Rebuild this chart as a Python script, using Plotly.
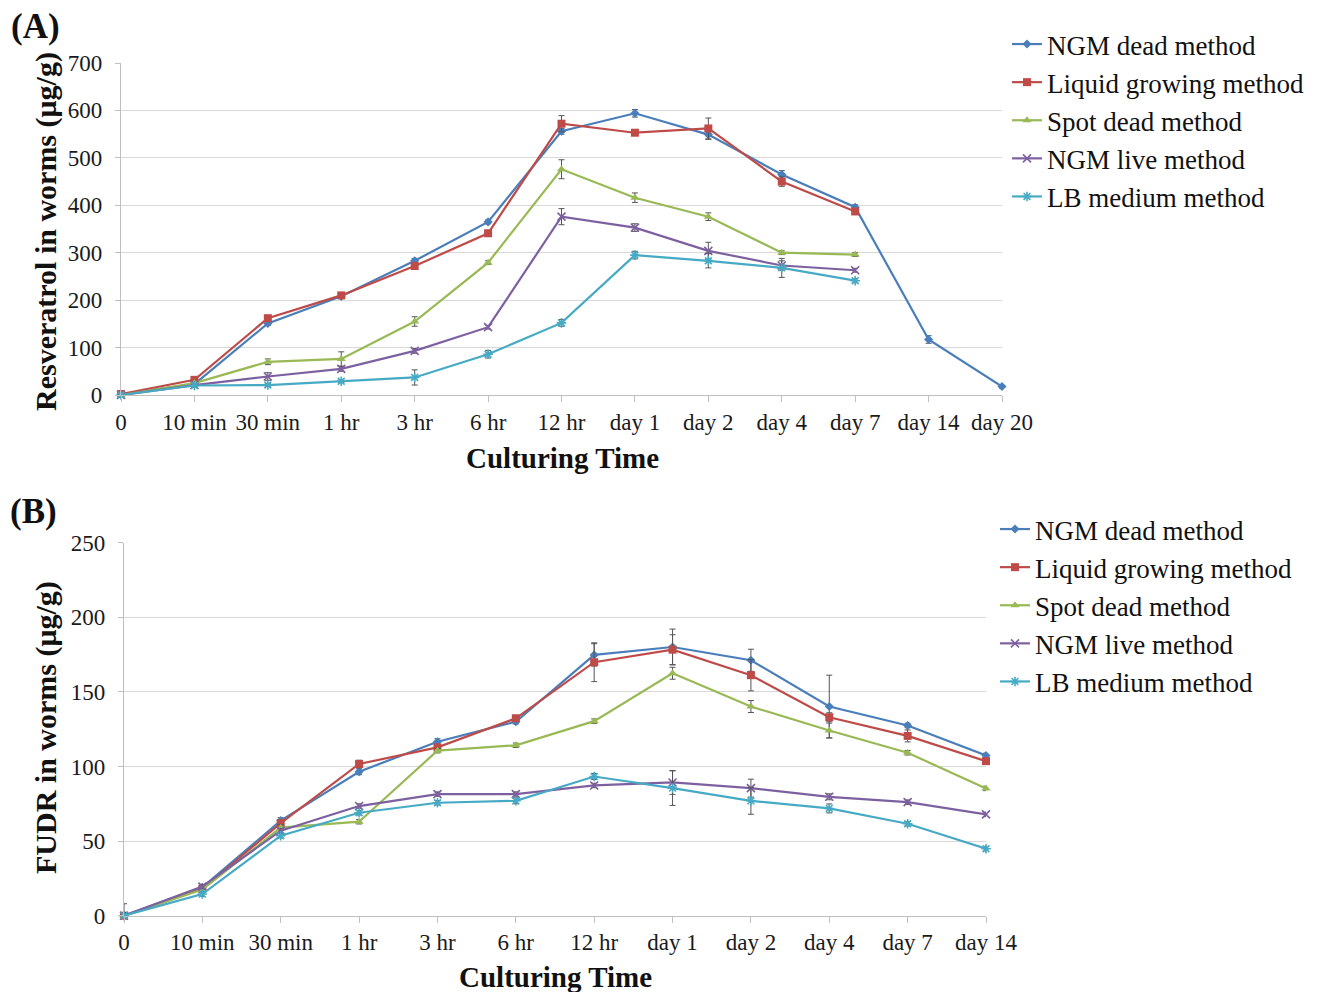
import plotly.graph_objects as go

# ---------------- data ----------------
cats_a = ["0", "10 min", "30 min", "1 hr", "3 hr", "6 hr", "12 hr", "day 1", "day 2",
          "day 4", "day 7", "day 14", "day 20"]
cats_b = ["0", "10 min", "30 min", "1 hr", "3 hr", "6 hr", "12 hr", "day 1", "day 2",
          "day 4", "day 7", "day 14"]

series_names = ["NGM dead method", "Liquid growing method", "Spot dead method",
                "NGM live method", "LB medium method"]

# Panel A: resveratrol (ug/g)
a_ngm_dead = [2, 23, 151, 208, 283, 365, 556, 594, 549, 465, 396, 117, 18]
a_liquid = [2, 32, 162, 210, 272, 341, 572, 553, 562, 450, 387]
a_spot = [0, 25, 70, 76, 155, 279, 476, 416, 376, 300, 296]
a_ngm_live = [0, 21, 39, 55, 93, 143, 376, 353, 304, 273, 263]
a_lb = [0, 20, 21, 29, 37, 86, 152, 295, 283, 268, 241]

a_err_ngm_dead = [5, 3, 4, 4, 5, 4, 6, 8, 10, 8, 5, 8, 3]
a_err_liquid = [3, 3, 5, 5, 5, 4, 17, 5, 22, 10, 6]
a_err_spot = [2, 3, 6, 15, 10, 4, 20, 10, 8, 4, 4]
a_err_ngm_live = [2, 3, 8, 5, 5, 4, 17, 8, 18, 10, 4]
a_err_lb = [2, 3, 3, 3, 16, 8, 7, 8, 15, 20, 4]

# Panel B: FUDR (ug/g)
b_ngm_dead = [0, 19, 63.7, 96.5, 116.6, 130, 174.8, 180.1, 171.2, 140.2, 127.5, 107.4]
b_liquid = [0, 18, 62, 101.7, 112.8, 132.3, 169.9, 178.3, 161.2, 133, 120.5, 103.6]
b_spot = [0, 17.6, 59, 63, 110.6, 114.2, 130.4, 162.5, 140.2, 124.1, 109.2, 85.3]
b_ngm_live = [0, 19.5, 57, 73.5, 81.5, 81.5, 87.3, 89.3, 85.5, 79.7, 76.1, 67.9]
b_lb = [0, 14.5, 53.6, 69, 75.7, 77, 93.3, 85.5, 77, 71.9, 61.6, 44.9]

b_err_ngm_dead = [8, 1.5, 2, 2, 2, 1.5, 7.5, 12, 7.4, 21, 1.5, 1.5]
b_err_liquid = [2, 1.5, 2, 2.5, 2, 2, 13, 10, 10.5, 3, 4, 1.5]
b_err_spot = [2, 1.5, 2, 1.5, 1.5, 1.5, 1.5, 4, 4, 5, 1.5, 1.5]
b_err_ngm_live = [2, 1.5, 1.5, 1.5, 1.5, 1.5, 1.5, 8, 6, 2, 1.5, 1.5]
b_err_lb = [2, 1.5, 1.5, 1.5, 1.5, 2, 2, 11.6, 9, 3, 1.5, 1.5]

# ---------------- styles ----------------
colors = ["#4A7EBB", "#BE4B48", "#98B954", "#7D60A0", "#46AAC5"]
symbols = ["diamond", "square", "triangle-up", "x-thin-open", "asterisk-open"]
sizes = [7, 8, 8, 8, 8]
FONT = "Liberation Serif, Times New Roman, serif"

# the page body has an 8px margin, so the figure is drawn offset by 8px
OFF = 8
W, H = 1325, 984

fig = go.Figure()

a_vals = [a_ngm_dead, a_liquid, a_spot, a_ngm_live, a_lb]
a_errs = [a_err_ngm_dead, a_err_liquid, a_err_spot, a_err_ngm_live, a_err_lb]
b_vals = [b_ngm_dead, b_liquid, b_spot, b_ngm_live, b_lb]
b_errs = [b_err_ngm_dead, b_err_liquid, b_err_spot, b_err_ngm_live, b_err_lb]


def marker(i):
    open_sym = symbols[i].endswith("open")
    return dict(symbol=symbols[i], size=sizes[i], color=colors[i],
                line=dict(width=1.6 if open_sym else 0, color=colors[i]))


for i, name in enumerate(series_names):
    vals = a_vals[i]
    fig.add_trace(go.Scatter(
        x=list(range(len(vals))), y=vals, name=name, mode="lines+markers",
        line=dict(color=colors[i], width=2.2), marker=marker(i),
        error_y=dict(type="data", array=a_errs[i], color="#555555", thickness=1, width=3),
        xaxis="x", yaxis="y", legend="legend", cliponaxis=False))

for i, name in enumerate(series_names):
    vals = b_vals[i]
    fig.add_trace(go.Scatter(
        x=list(range(len(vals))), y=vals, name=name, mode="lines+markers",
        line=dict(color=colors[i], width=2.2), marker=marker(i),
        error_y=dict(type="data", array=b_errs[i], color="#555555", thickness=1, width=3),
        xaxis="x2", yaxis="y2", legend="legend2", cliponaxis=False))


def px_x(p):
    return (p - OFF) / W


def px_y(p):
    return 1 - (p - OFF) / H


axis_common = dict(showline=True, linecolor="#BFBFBF", linewidth=1.3,
                   ticks="outside", tickcolor="#BFBFBF", ticklen=6,
                   tickfont=dict(family=FONT, size=23, color="#1a1a1a"),
                   zeroline=False, automargin=False)

fig.update_layout(
    width=W, height=H,
    margin=dict(l=0, r=0, t=0, b=0, pad=0, autoexpand=False),
    paper_bgcolor="white", plot_bgcolor="white",
    font=dict(family=FONT, color="#111"),
    xaxis=dict(domain=[px_x(121), px_x(1002)], anchor="y", range=[0, 12],
               tickmode="array", tickvals=list(range(len(cats_a))), ticktext=cats_a,
               showgrid=False, ticklabelstandoff=0, **axis_common),
    yaxis=dict(domain=[px_y(395), px_y(63)], anchor="x", range=[0, 700], dtick=100,
               showgrid=True, gridcolor="#D9D9D9", gridwidth=1.3,
               ticklabelstandoff=8, **{**axis_common, "ticklen": 5}),
    xaxis2=dict(domain=[px_x(124), px_x(986)], anchor="y2", range=[0, 11],
                tickmode="array", tickvals=list(range(len(cats_b))), ticktext=cats_b,
                showgrid=False, ticklabelstandoff=0, **axis_common),
    yaxis2=dict(domain=[px_y(915.7), px_y(542.7)], anchor="x2", range=[0, 250], dtick=50,
                showgrid=True, gridcolor="#D9D9D9", gridwidth=1.3,
                ticklabelstandoff=8, **{**axis_common, "ticklen": 5}),
    legend=dict(x=px_x(1007), y=px_y(20), xanchor="left", yanchor="top",
                font=dict(family=FONT, size=27, color="#111"),
                bgcolor="rgba(0,0,0,0)", itemwidth=30, tracegroupgap=0),
    legend2=dict(x=px_x(995), y=px_y(505), xanchor="left", yanchor="top",
                 font=dict(family=FONT, size=27, color="#111"),
                 bgcolor="rgba(0,0,0,0)", itemwidth=30, tracegroupgap=0),
    showlegend=True,
)

ann_font_bold = dict(family=FONT, size=29, color="#111")
annotations = [
    dict(text="<b>(A)</b>", x=px_x(35), y=px_y(27), font=dict(family=FONT, size=35, color="#111")),
    dict(text="<b>(B)</b>", x=px_x(33), y=px_y(511), font=dict(family=FONT, size=35, color="#111")),
    dict(text="<b>Culturing Time</b>", x=px_x(562), y=px_y(458), font=ann_font_bold),
    dict(text="<b>Culturing Time</b>", x=px_x(555), y=px_y(977), font=ann_font_bold),
    dict(text="<b>Resveratrol in worms (μg/g)</b>", x=px_x(46), y=px_y(232),
         textangle=-90, font=dict(family=FONT, size=30, color="#111")),
    dict(text="<b>FUDR in worms (μg/g)</b>", x=px_x(46), y=px_y(728),
         textangle=-90, font=dict(family=FONT, size=30, color="#111")),
]
for a in annotations:
    a.update(xref="paper", yref="paper", showarrow=False, xanchor="center", yanchor="middle")
fig.update_layout(annotations=annotations)

fig.write_html("out.html")
